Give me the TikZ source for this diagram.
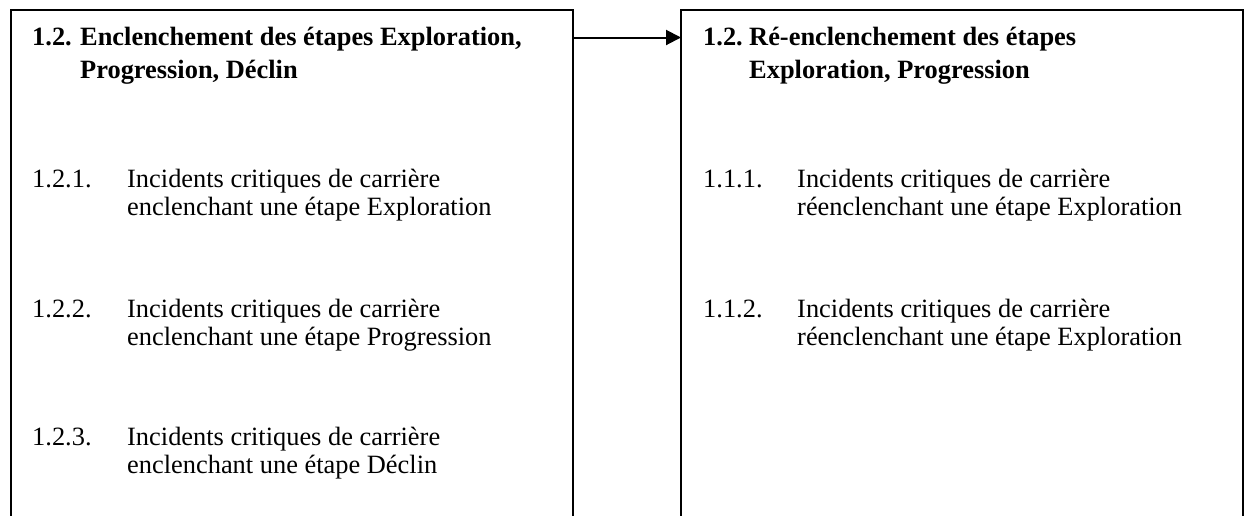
\documentclass[tikz,border=0pt]{standalone}
\usepackage{fontspec}
\setmainfont{Liberation Serif}
\usetikzlibrary{arrows.meta}
\begin{document}
\begin{tikzpicture}[x=1pt,y=-1pt,
  txt/.style={anchor=base west,inner sep=0pt,font=\fontsize{26.4}{30}\selectfont},
  hd/.style={anchor=base west,inner sep=0pt,font=\fontsize{26.4}{30}\selectfont\bfseries},
  area/.style={anchor=north west,inner sep=0pt,minimum width=562pt,minimum height=506pt},
  frame/.style={line width=2pt},
  link/.style={line width=2pt,-{Triangle[length=15pt,width=15pt]}}]
\useasboundingbox (0,0) rectangle (1244,515);
% boxes (open at the bottom)
\node[area] (L) at (11,10) {};
\node[area] (R) at (681,10) {};
\draw[frame] (L.south west) -- (L.north west) -- (L.north east) -- (L.south east);
\draw[frame] (R.south west) -- (R.north west) -- (R.north east) -- (R.south east);
\draw[link] ([yshift=-27.5pt]L.north east) -- ([yshift=-27.5pt]R.north west);
% left heading
\node[hd] (Lh) at (32,45) {1.2.};
\node[hd] (Lh1) at (80,45) {Enclenchement des étapes Exploration,};
\node[hd] (Lh2) at (80,78) {Progression, Déclin};
% left items
\node[txt] (La) at (32,187) {1.2.1.};
\node[txt] (La1) at (127,187) {Incidents critiques de carrière};
\node[txt] (La2) at (127,215) {enclenchant une étape Exploration};
\node[txt] (Lb) at (32,317) {1.2.2.};
\node[txt] (Lb1) at (127,317) {Incidents critiques de carrière};
\node[txt] (Lb2) at (127,345) {enclenchant une étape Progression};
\node[txt] (Lc) at (32,445) {1.2.3.};
\node[txt] (Lc1) at (127,445) {Incidents critiques de carrière};
\node[txt] (Lc2) at (127,473) {enclenchant une étape Déclin};
% right heading
\node[hd] (Rh) at (703,45) {1.2.};
\node[hd] (Rh1) at (749,45) {Ré-enclenchement des étapes};
\node[hd] (Rh2) at (749,78) {Exploration, Progression};
% right items
\node[txt] (Ra) at (703,187) {1.1.1.};
\node[txt] (Ra1) at (797,187) {Incidents critiques de carrière};
\node[txt] (Ra2) at (797,215) {réenclenchant une étape Exploration};
\node[txt] (Rb) at (703,317) {1.1.2.};
\node[txt] (Rb1) at (797,317) {Incidents critiques de carrière};
\node[txt] (Rb2) at (797,345) {réenclenchant une étape Exploration};
\end{tikzpicture}
\end{document}
